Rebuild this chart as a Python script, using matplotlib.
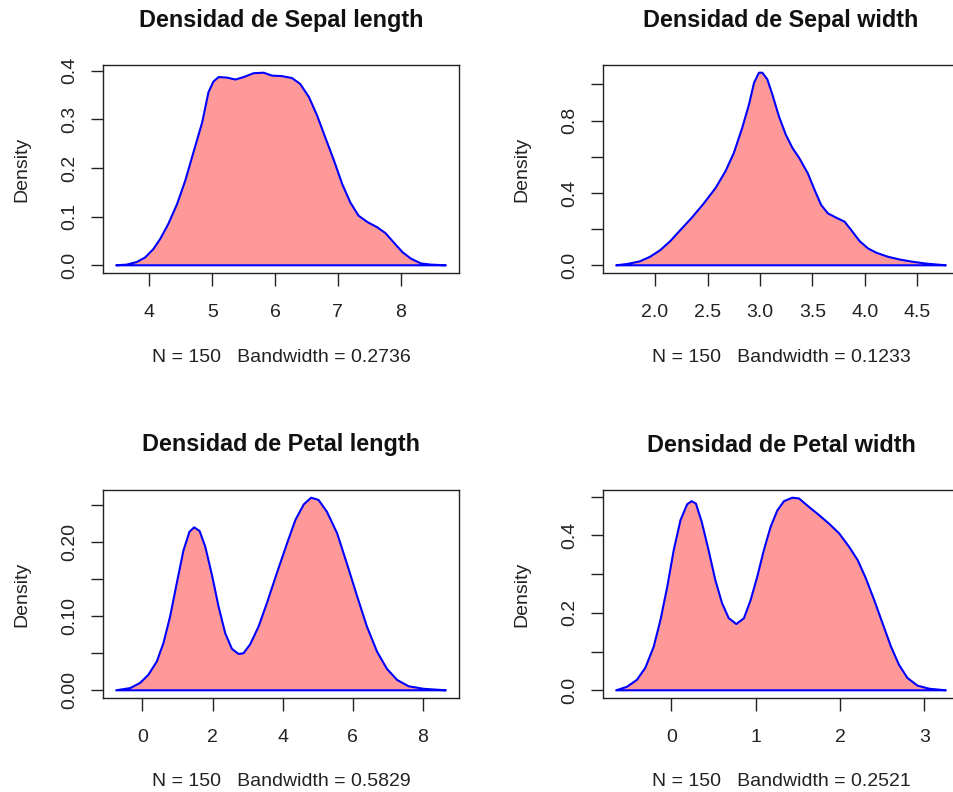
import matplotlib
matplotlib.use("Agg")
import matplotlib.pyplot as plt

plt.rcParams['font.family'] = ['Liberation Sans', 'DejaVu Sans']

# density curves
sl_x = [3.47, 3.64, 3.80, 3.93, 4.06, 4.17, 4.30, 4.44, 4.57, 4.70, 4.84, 4.94, 5.02, 5.10,
        5.23, 5.37, 5.50, 5.66, 5.82, 5.95, 6.11, 6.27, 6.40, 6.54, 6.67, 6.80, 6.94, 7.07,
        7.20, 7.33, 7.47, 7.63, 7.76, 7.89, 8.03, 8.16, 8.32, 8.48, 8.72]
sl_y = [0.0, 0.0014, 0.0069, 0.016, 0.033, 0.054, 0.085, 0.126, 0.174, 0.232, 0.294, 0.356, 0.378, 0.387,
        0.386, 0.382, 0.387, 0.395, 0.396, 0.390, 0.389, 0.385, 0.373, 0.346, 0.308, 0.263, 0.215, 0.167,
        0.129, 0.102, 0.089, 0.078, 0.066, 0.047, 0.027, 0.014, 0.004, 0.0014, 0.0]

sw_x = [1.63, 1.744, 1.856, 1.952, 2.048, 2.144, 2.24, 2.35, 2.46, 2.575, 2.67, 2.75, 2.83, 2.895,
        2.943, 2.99, 3.022, 3.07, 3.118, 3.18, 3.246, 3.31, 3.374, 3.455, 3.52, 3.583, 3.647, 3.727,
        3.806, 3.87, 3.95, 4.03, 4.11, 4.22, 4.33, 4.46, 4.59, 4.77]
sw_y = [0.0, 0.008, 0.022, 0.047, 0.083, 0.133, 0.194, 0.263, 0.339, 0.426, 0.519, 0.620, 0.759, 0.889,
        1.009, 1.065, 1.065, 1.028, 0.944, 0.824, 0.722, 0.648, 0.593, 0.509, 0.417, 0.333, 0.287, 0.263,
        0.241, 0.194, 0.133, 0.093, 0.069, 0.047, 0.032, 0.019, 0.009, 0.0]

pl_x = [-0.749, -0.35, -0.065, 0.17, 0.41, 0.60, 0.79, 0.98, 1.17, 1.34, 1.475, 1.63, 1.79, 1.98,
        2.17, 2.36, 2.55, 2.74, 2.88, 3.07, 3.31, 3.55, 3.83, 4.12, 4.36, 4.60, 4.81, 5.02,
        5.26, 5.55, 5.83, 6.12, 6.40, 6.69, 6.97, 7.26, 7.59, 8.02, 8.649]
pl_y = [0.0, 0.003, 0.010, 0.021, 0.039, 0.064, 0.100, 0.145, 0.189, 0.214, 0.220, 0.215, 0.194, 0.156,
        0.113, 0.077, 0.056, 0.049, 0.050, 0.062, 0.086, 0.118, 0.158, 0.198, 0.230, 0.251, 0.260, 0.257,
        0.241, 0.212, 0.171, 0.127, 0.086, 0.052, 0.029, 0.014, 0.0054, 0.002, 0.0]

pw_x = [-0.656, -0.528, -0.41, -0.31, -0.21, -0.13, -0.05, 0.027, 0.107, 0.186, 0.238, 0.29, 0.36,
        0.44, 0.52, 0.60, 0.68, 0.77, 0.86, 0.94, 1.018, 1.097, 1.177, 1.256, 1.335, 1.434, 1.514,
        1.633, 1.752, 1.87, 1.99, 2.109, 2.21, 2.307, 2.406, 2.505, 2.605, 2.70, 2.80, 2.92, 3.06, 3.256]
pw_y = [0.0, 0.009, 0.027, 0.058, 0.113, 0.182, 0.267, 0.362, 0.439, 0.480, 0.488, 0.482, 0.434,
        0.362, 0.285, 0.225, 0.186, 0.171, 0.186, 0.233, 0.293, 0.362, 0.422, 0.464, 0.488, 0.497, 0.495,
        0.473, 0.452, 0.430, 0.405, 0.370, 0.336, 0.289, 0.233, 0.173, 0.113, 0.066, 0.032, 0.012, 0.004, 0.0]

titles = ["Densidad de Sepal length", "Densidad de Sepal width",
          "Densidad de Petal length", "Densidad de Petal width"]
subtitles = ["N = 150   Bandwidth = 0.2736", "N = 150   Bandwidth = 0.1233",
             "N = 150   Bandwidth = 0.5829", "N = 150   Bandwidth = 0.2521"]

xticks = [[4, 5, 6, 7, 8], [2.0, 2.5, 3.0, 3.5, 4.0, 4.5], [0, 2, 4, 6, 8], [0, 1, 2, 3]]
xlabels = [["4", "5", "6", "7", "8"], ["2.0", "2.5", "3.0", "3.5", "4.0", "4.5"],
           ["0", "2", "4", "6", "8"], ["0", "1", "2", "3"]]
yticks = [[0, 0.1, 0.2, 0.3, 0.4], [0, 0.2, 0.4, 0.6, 0.8, 1.0],
          [0, 0.05, 0.10, 0.15, 0.20, 0.25], [0, 0.1, 0.2, 0.3, 0.4, 0.5]]
ylabels = [["0.0", "0.1", "0.2", "0.3", "0.4"], ["0.0", "", "0.4", "", "0.8", ""],
           ["0.00", "", "0.10", "", "0.20", ""], ["0.0", "", "0.2", "", "0.4", ""]]

curves = [(sl_x, sl_y), (sw_x, sw_y), (pl_x, pl_y), (pw_x, pw_y)]

W, H = 954, 792
fig = plt.figure(figsize=(W / 100, H / 100), dpi=100)

# axes boxes in pixels: left, top
boxes = [(103, 65), (603, 65), (103, 490), (603, 490)]
bw, bh = 356, 208

for i, (x, y) in enumerate(curves):
    left, top = boxes[i]
    ax = fig.add_axes([left / W, (H - top - bh) / H, bw / W, bh / H])
    ax.fill(x, y, facecolor="#ff9999", edgecolor="#0000ff", linewidth=1.5, joinstyle="round")

    # R style 4% padding around the data range
    xr = max(x) - min(x)
    yr = max(y)
    ax.set_xlim(min(x) - 0.04 * xr, max(x) + 0.04 * xr)
    ax.set_ylim(-0.04 * yr, yr * 1.04)

    ax.set_xticks(xticks[i])
    ax.set_xticklabels(xlabels[i])
    ax.set_yticks(yticks[i])
    ax.set_yticklabels(ylabels[i], rotation=90, va="center")
    ax.tick_params(axis="both", length=9, width=1, color="#222222",
                   labelsize=14, labelcolor="#222222")
    ax.tick_params(axis="x", pad=13)
    ax.tick_params(axis="y", pad=9)
    for sp in ax.spines.values():
        sp.set_linewidth(1.0)
        sp.set_color("#222222")

    ax.text(0.5, 1 + 45 / bh, titles[i], transform=ax.transAxes, ha="center", va="center",
            fontsize=16.8, fontweight="bold", color="#111111")
    ax.text(0.5, -84 / bh, subtitles[i], transform=ax.transAxes, ha="center", va="center",
            fontsize=14, color="#222222")
    ax.text(-81 / bw, 0.5, "Density", transform=ax.transAxes, ha="center", va="center",
            rotation=90, fontsize=14, color="#222222")

fig.savefig("out.png", dpi=100)
